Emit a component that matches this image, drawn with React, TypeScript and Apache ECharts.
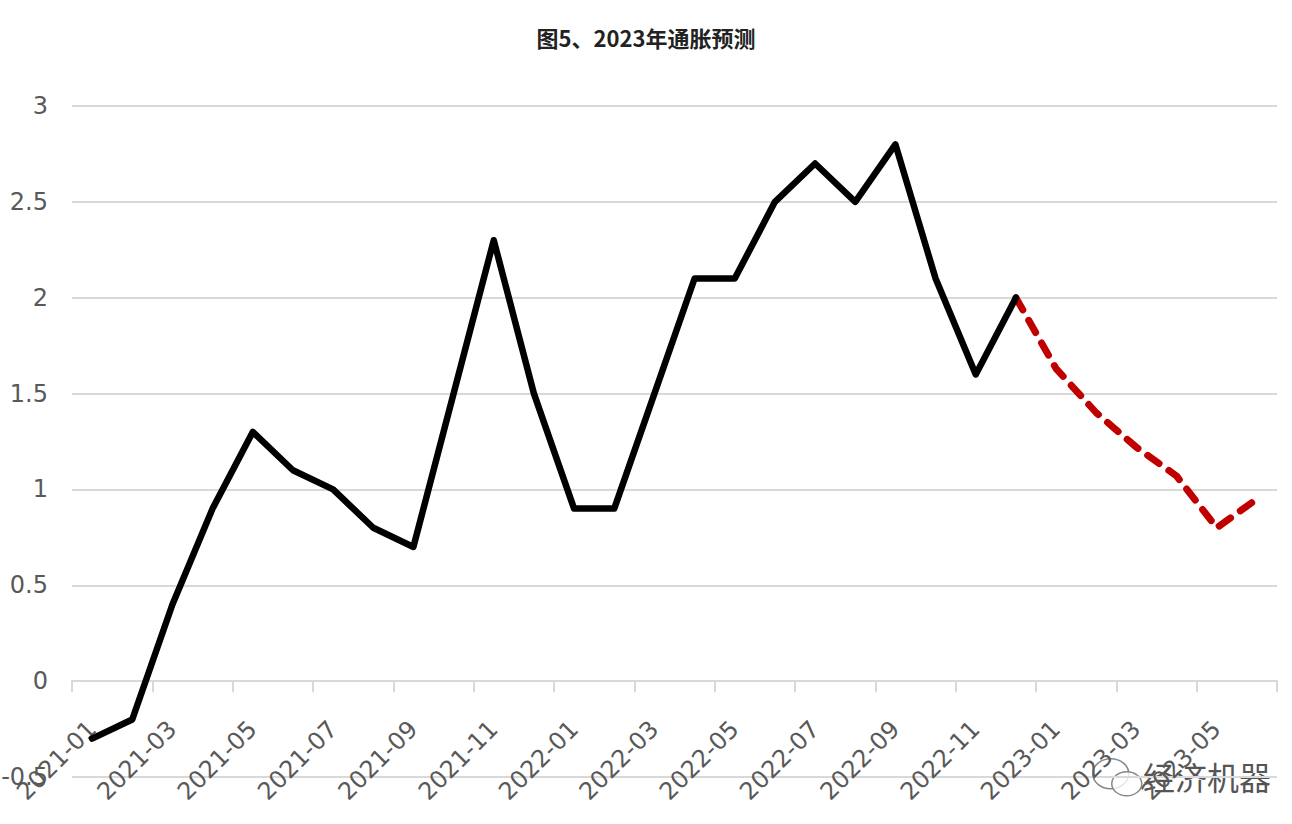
import React, { useEffect, useRef } from "react";
import * as echarts from "echarts";

const titleText = "图5、2023年通胀预测";
const years = ["2021", "2022", "2023"];
const monthsPerYear = [12, 12, 6];
const actualValues = [
  -0.3, -0.2, 0.4, 0.9, 1.3, 1.1, 1.0, 0.8, 0.7, 1.5, 2.3, 1.5,
  0.9, 0.9, 1.5, 2.1, 2.1, 2.5, 2.7, 2.5, 2.8, 2.1, 1.6, 2.0,
];
const forecastValues = [2.0, 1.63, 1.4, 1.22, 1.07, 0.8, 0.95];
const watermarkText = "经济机器";

const categories: string[] = [];
years.forEach((y, i) => {
  for (let m = 1; m <= monthsPerYear[i]; m++) {
    categories.push(`${y}-${String(m).padStart(2, "0")}`);
  }
});

const actualSeries = categories.map((_, i) => (i < actualValues.length ? actualValues[i] : null));
const forecastStart = actualValues.length - 1;
const forecastSeries = categories.map((_, i) =>
  i >= forecastStart && i - forecastStart < forecastValues.length ? forecastValues[i - forecastStart] : null
);

export default function App() {
  const ref = useRef<HTMLDivElement>(null);
  useEffect(() => {
    if (!ref.current) return;
    const chart = echarts.init(ref.current, null, { renderer: "svg" });
    chart.setOption({
      animation: false,
      backgroundColor: "#ffffff",
      title: {
        text: titleText,
        left: "center",
        top: 21,
        textStyle: {
          fontSize: 22,
          fontWeight: "bold",
          color: "#222222",
          fontFamily: "Noto Sans CJK SC",
        },
      },
      grid: { left: 72, right: 15, top: 106, bottom: 47, containLabel: false, outerBoundsMode: "none" },
      xAxis: {
        type: "category",
        data: categories,
        boundaryGap: true,
        axisLine: { onZero: true, lineStyle: { color: "#d9d9d9", width: 2 } },
        axisTick: {
          show: true,
          interval: 1,
          alignWithLabel: false,
          length: 11,
          lineStyle: { color: "#d9d9d9", width: 2 },
        },
        axisLabel: {
          interval: 1,
          rotate: 45,
          margin: -52,
          fontSize: 24,
          color: "#595959",
          fontFamily: "DejaVu Sans",
          hideOverlap: false,
        },
        splitLine: { show: false },
      },
      yAxis: {
        type: "value",
        min: -0.5,
        max: 3,
        interval: 0.5,
        axisLine: { show: false },
        axisTick: { show: false },
        axisLabel: {
          margin: 24,
          fontSize: 24,
          color: "#595959",
          fontFamily: "DejaVu Sans",
        },
        splitLine: { lineStyle: { color: "#d9d9d9", width: 2 } },
      },
      series: [
        {
          name: "实际",
          type: "line",
          data: actualSeries,
          showSymbol: false,
          symbol: "none",
          connectNulls: false,
          lineStyle: { color: "#000000", width: 6.5, join: "round", cap: "round" },
          z: 3,
        },
        {
          name: "预测",
          type: "line",
          data: forecastSeries,
          showSymbol: false,
          symbol: "none",
          connectNulls: false,
          lineStyle: { color: "#c00000", width: 7, type: [14, 12], cap: "round", join: "round" },
          z: 2,
        },
      ],
      graphic: [
        {
          type: "group",
          left: 1092,
          top: 758,
          children: [
            { type: "ellipse", shape: { cx: 20, cy: 18, rx: 18, ry: 15 }, style: { fill: "rgba(255,255,255,0.6)", stroke: "#888", lineWidth: 1.5 } },
            { type: "ellipse", shape: { cx: 36, cy: 28, rx: 15, ry: 12 }, style: { fill: "rgba(255,255,255,0.8)", stroke: "#888", lineWidth: 1.5 } },
          ],
        },
        {
          type: "text",
          left: 1142,
          top: 759,
          style: {
            text: watermarkText,
            fontSize: 32,
            fill: "#555555",
            stroke: "#ffffff",
            lineWidth: 2,
            fontFamily: "Noto Sans CJK SC",
          },
        },
      ],
    });
    return () => chart.dispose();
  }, []);
  return <div ref={ref} style={{ position: "fixed", left: 0, top: 0, width: 1292, height: 824 }} />;
}
